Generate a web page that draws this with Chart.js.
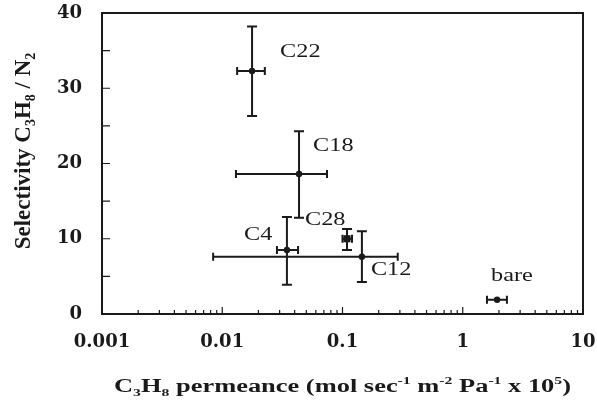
<!DOCTYPE html>
<html>
<head>
<meta charset="utf-8">
<script src="https://cdn.jsdelivr.net/npm/chart.js@4.4.1/dist/chart.umd.min.js"></script>
<style>
  html, body { margin: 0; padding: 0; background: #fff; }
  #wrap { width: 597px; height: 402px; }
</style>
</head>
<body>
<div id="wrap"><canvas id="chart" width="597" height="402"></canvas></div>
<script>
// values
const samples = ["C22", "C18", "C28", "C4", "C12", "bare"];
const permeance = [0.0177, 0.0435, 0.109, 0.0345, 0.145, 1.93];
const selectivity = [32.3, 18.6, 10.0, 8.5, 7.6, 1.9];
const permLow = [0.0133, 0.0130, 0.100, 0.0285, 0.0084, 1.59];
const permHigh = [0.0226, 0.0743, 0.120, 0.0427, 0.288, 2.33];
const selLow = [26.3, 12.8, 8.5, 3.9, 4.25, 1.9];
const selHigh = [38.2, 24.3, 11.3, 12.9, 11.0, 1.9];

const xTickValues = [0.001, 0.01, 0.1, 1, 10];
const xTickLabels = ["0.001", "0.01", "0.1", "1", "10"];
const yTickValues = [0, 10, 20, 30, 40];

// label offsets from each point, in pixels
const labelDx = [28, 14, -42, -43, 9, -6];
const labelDy = [-19, -28, -18, -15, 13, -23];

const INK = "#1a1a1a";
const SERIF = "'Liberation Serif', 'Times New Roman', serif";
const STRETCH = 1.35;

const xTitleParts = [
  ["C", ""], ["3", "sub"], ["H", ""], ["8", "sub"],
  [" permeance (mol sec", ""], ["-1", "sup"], [" m", ""], ["-2", "sup"],
  [" Pa", ""], ["-1", "sup"], [" x 10", ""], ["5", "sup"], [")", ""],
];
const yTitleParts = [
  ["Selectivity C", ""], ["3", "sub"], ["H", ""], ["8", "sub"], [" / N", ""], ["2", "sub"],
];

function partFont(kind, size) {
  const s = kind ? Math.round(size * 0.62) : size;
  return "bold " + s + "px " + SERIF;
}

function richWidth(ctx, parts, size) {
  let w = 0;
  parts.forEach(([t, kind]) => {
    ctx.font = partFont(kind, size);
    w += ctx.measureText(t).width;
  });
  return w;
}

function drawRich(ctx, parts, size) {
  let cx = 0;
  ctx.textAlign = "left";
  ctx.textBaseline = "alphabetic";
  parts.forEach(([t, kind]) => {
    ctx.font = partFont(kind, size);
    let dy = 0;
    if (kind === "sub") dy = size * 0.22;
    if (kind === "sup") dy = -size * 0.42;
    ctx.fillText(t, cx, dy);
    cx += ctx.measureText(t).width;
  });
}

const errorBars = {
  id: "errorBars",
  beforeDatasetsDraw(chart) {
    const { ctx, scales: { x, y } } = chart;
    ctx.save();
    ctx.strokeStyle = INK;
    ctx.lineWidth = 2;
    samples.forEach((s, i) => {
      const px = x.getPixelForValue(permeance[i]);
      const py = y.getPixelForValue(selectivity[i]);
      const x0 = x.getPixelForValue(permLow[i]);
      const x1 = x.getPixelForValue(permHigh[i]);
      const y0 = y.getPixelForValue(selLow[i]);
      const y1 = y.getPixelForValue(selHigh[i]);
      ctx.beginPath();
      if (x1 - x0 > 1) {
        ctx.moveTo(x0, py); ctx.lineTo(x1, py);
        ctx.moveTo(x0, py - 4); ctx.lineTo(x0, py + 4);
        ctx.moveTo(x1, py - 4); ctx.lineTo(x1, py + 4);
      }
      if (y0 - y1 > 1) {
        ctx.moveTo(px, y0); ctx.lineTo(px, y1);
        ctx.moveTo(px - 5, y0); ctx.lineTo(px + 5, y0);
        ctx.moveTo(px - 5, y1); ctx.lineTo(px + 5, y1);
      }
      ctx.stroke();
    });
    ctx.restore();
  },
};

const frame = {
  id: "frame",
  afterDraw(chart) {
    const { ctx, chartArea: a, scales: { x, y } } = chart;
    ctx.save();
    ctx.strokeStyle = INK;
    ctx.lineWidth = 2;
    ctx.strokeRect(a.left, a.top, a.right - a.left, a.bottom - a.top);

    // inward ticks
    ctx.lineWidth = 1.2;
    ctx.beginPath();
    for (let d = -3; d <= 0; d++) {
      for (let m = 1; m <= 9; m++) {
        const px = x.getPixelForValue(m * Math.pow(10, d));
        const len = m === 1 ? 7 : 4;
        ctx.moveTo(px, a.bottom); ctx.lineTo(px, a.bottom - len);
      }
    }
    for (let v = 5; v < 40; v += 5) {
      const py = y.getPixelForValue(v);
      ctx.moveTo(a.left, py); ctx.lineTo(a.left + 8, py);
    }
    ctx.stroke();

    // sample labels
    ctx.fillStyle = INK;
    ctx.font = "18px " + SERIF;
    ctx.textAlign = "left";
    ctx.textBaseline = "middle";
    samples.forEach((s, i) => {
      const px = x.getPixelForValue(permeance[i]) + labelDx[i];
      const py = y.getPixelForValue(selectivity[i]) + labelDy[i];
      ctx.save();
      ctx.translate(px, py);
      ctx.scale(STRETCH, 1);
      ctx.fillText(s, 0, 0);
      ctx.restore();
    });

    // x title
    const xs = 18.5;
    const xw = richWidth(ctx, xTitleParts, xs);
    const sx = 457 / xw;
    ctx.save();
    ctx.translate((a.left + a.right) / 2 - 457 / 2, 392);
    ctx.scale(sx, 1);
    drawRich(ctx, xTitleParts, xs);
    ctx.restore();

    // y title
    const ys = 23;
    const yw = richWidth(ctx, yTitleParts, ys);
    ctx.save();
    ctx.translate(30, 151);
    ctx.rotate(-Math.PI / 2);
    ctx.translate(-yw / 2, 0);
    drawRich(ctx, yTitleParts, ys);
    ctx.restore();

    ctx.restore();
  },
};

const tickFont = { family: "'DejaVu Serif', serif", size: 18, weight: "bold" };

new Chart(document.getElementById("chart"), {
  type: "scatter",
  data: {
    datasets: [{
      data: permeance.map((p, i) => ({ x: p, y: selectivity[i] })),
      backgroundColor: INK,
      borderColor: INK,
      pointRadius: samples.map((s) => (s === "C28" ? 5 : 3.2)),
      pointStyle: samples.map((s) => (s === "C28" ? "rect" : "circle")),
      borderWidth: 0,
    }],
  },
  options: {
    responsive: false,
    animation: false,
    layout: { padding: { top: 13, right: 14, left: 0, bottom: 0 } },
    plugins: { legend: { display: false }, tooltip: { enabled: false } },
    scales: {
      x: {
        type: "logarithmic",
        min: 0.001,
        max: 10,
        afterBuildTicks(scale) {
          scale.ticks = xTickValues.map((v) => ({ value: v }));
        },
        afterFit(scale) {
          scale.height = 88;
          scale.paddingLeft = 0;
          scale.paddingRight = 0;
        },
        grid: { display: false, drawTicks: false },
        border: { display: false },
        ticks: {
          color: INK,
          font: tickFont,
          padding: 18,
          maxRotation: 0,
          autoSkip: false,
          callback(value) {
            const i = xTickValues.indexOf(value);
            return i >= 0 ? xTickLabels[i] : "";
          },
        },
      },
      y: {
        min: 0,
        max: 40,
        afterBuildTicks(scale) {
          scale.ticks = yTickValues.map((v) => ({ value: v }));
        },
        afterFit(scale) {
          scale.width = 102;
          scale.paddingTop = 0;
          scale.paddingBottom = 0;
        },
        grid: { display: false, drawTicks: false },
        border: { display: false },
        ticks: { color: INK, font: tickFont, padding: 20 },
      },
    },
  },
  plugins: [errorBars, frame],
});
</script>
</body>
</html>
